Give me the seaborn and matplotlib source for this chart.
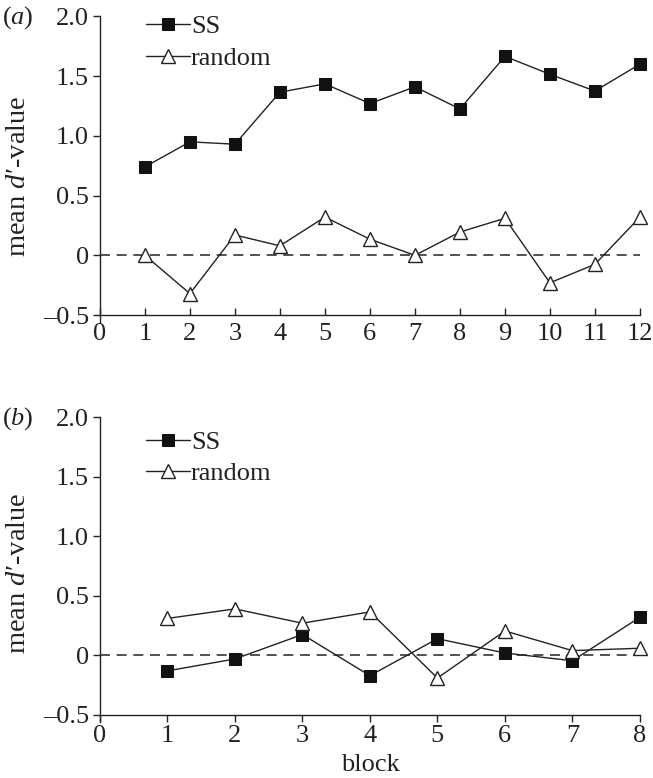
import matplotlib
matplotlib.use("Agg")
import matplotlib.pyplot as plt
import seaborn as sns
import pandas as pd

sns.set_theme(style="ticks")
plt.rcParams['font.family'] = ['Liberation Serif', 'DejaVu Serif']
plt.rcParams['mathtext.fontset'] = 'custom'
plt.rcParams['mathtext.rm'] = 'Liberation Serif'
plt.rcParams['mathtext.it'] = 'Liberation Serif:italic'

blocks_a = [1, 2, 3, 4, 5, 6, 7, 8, 9, 10, 11, 12]
ss_a = [0.74, 0.95, 0.93, 1.365, 1.435, 1.27, 1.41, 1.225, 1.665, 1.515, 1.375, 1.60]
random_a = [0.0, -0.32, 0.17, 0.08, 0.32, 0.135, 0.0, 0.195, 0.31, -0.23, -0.075, 0.32]

blocks_b = [1, 2, 3, 4, 5, 6, 7, 8]
ss_b = [-0.13, -0.03, 0.175, -0.17, 0.14, 0.02, -0.045, 0.32]
random_b = [0.31, 0.39, 0.27, 0.365, -0.19, 0.205, 0.04, 0.06]

yticks = [-0.5, 0, 0.5, 1.0, 1.5, 2.0]
ytick_labels = ['\u20130.5', '0', '0.5', '1.0', '1.5', '2.0']

fig = plt.figure(figsize=(6.53, 7.78), dpi=100)
ax_a = fig.add_axes([0.153, 0.595, 0.827, 0.384])
ax_b = fig.add_axes([0.153, 0.081, 0.827, 0.383])

FS = 19
INK = '#222222'

def draw(ax, blocks, ss, rnd, xmax, label, leg_y, xdir, ylab_y):
    df = pd.DataFrame({'block': blocks * 2,
                       'value': ss + rnd,
                       'series': ['SS'] * len(blocks) + ['random'] * len(blocks)})
    ax.axhline(0, color='#333333', lw=1.2, ls=(0, (6, 4)), zorder=1)
    sns.lineplot(data=df[df.series == 'SS'], x='block', y='value', ax=ax,
                 color=INK, lw=1.0, marker='s', markersize=8,
                 markerfacecolor='#111111', markeredgecolor='#111111',
                 label='SS', zorder=3, clip_on=False)
    sns.lineplot(data=df[df.series == 'random'], x='block', y='value', ax=ax,
                 color=INK, lw=1.0, marker='^', markersize=10,
                 markerfacecolor='white', markeredgecolor=INK,
                 markeredgewidth=1.0, label='random', zorder=3, clip_on=False)
    ax.set_xlim(0, xmax)
    ax.set_ylim(-0.5, 2.0)
    ax.set_xticks(list(range(0, xmax + 1)))
    ax.set_xticklabels([str(i) for i in range(0, xmax + 1)])
    ax.set_yticks(yticks)
    ax.set_yticklabels(ytick_labels)
    ax.tick_params(axis='y', labelsize=FS, direction='out', length=5,
                   width=1.0, color=INK, labelcolor=INK, pad=3)
    ax.tick_params(axis='x', labelsize=FS, direction=xdir, length=5,
                   width=1.0, color=INK, labelcolor=INK,
                   pad=6 if xdir == 'in' else 2)
    for s in ['top', 'right']:
        ax.spines[s].set_visible(False)
    for s in ['left', 'bottom']:
        ax.spines[s].set_color(INK)
        ax.spines[s].set_linewidth(1.0)
    ax.spines['left'].set_bounds(-0.555, 2.0)
    ax.set_ylabel("mean $d$\u2032-value", fontsize=20.5, color=INK)
    ax.yaxis.set_label_coords(-0.128, ylab_y)
    ax.set_xlabel('')
    leg = ax.legend(loc='upper left', bbox_to_anchor=(0.066, leg_y), frameon=False,
                    fontsize=FS, handlelength=1.65, handletextpad=0.05,
                    labelspacing=0.3, borderaxespad=0.0)
    for t in leg.get_texts():
        t.set_color(INK)
    fig.text(0.003, ax.get_position().y1 - 0.002, label, fontsize=FS,
             color=INK, va='center', ha='left')

draw(ax_a, blocks_a, ss_a, random_a, 12, '($a$)', 1.04, 'in', 0.465)
draw(ax_b, blocks_b, ss_b, random_b, 8, '($b$)', 0.99, 'out', 0.475)
ax_b.set_xlabel('block', fontsize=FS, color=INK, labelpad=5)

fig.savefig('out.png', dpi=100)
